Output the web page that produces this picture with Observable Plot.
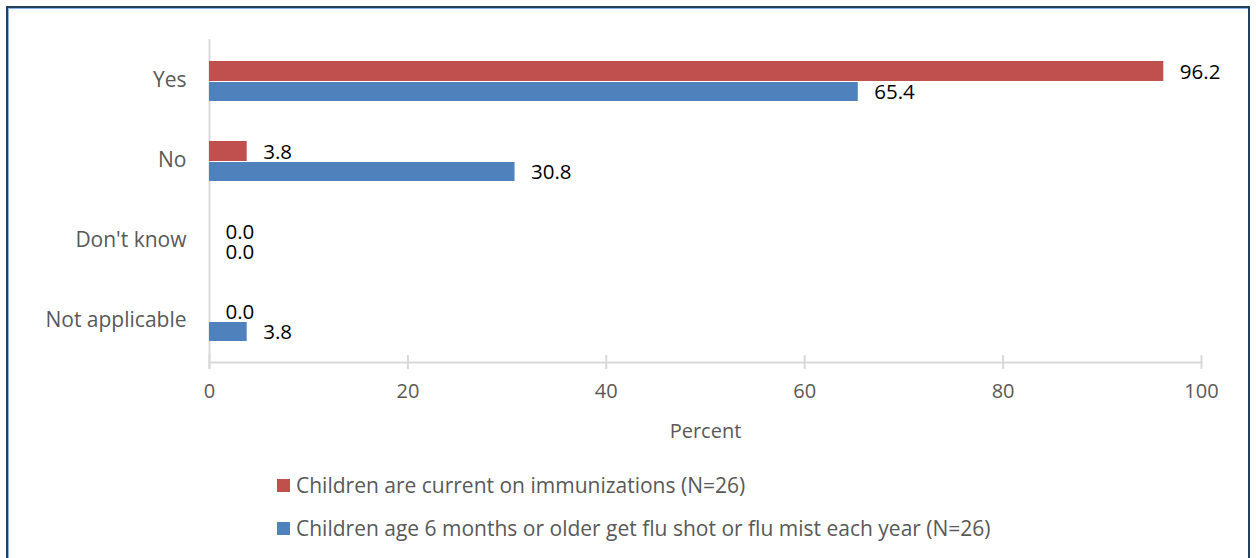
<!DOCTYPE html>
<html><head><meta charset="utf-8">
<script src="https://cdn.jsdelivr.net/npm/d3@7"></script>
<script src="https://cdn.jsdelivr.net/npm/@observablehq/plot@0.6"></script>
<style>
body{margin:0;background:#fff;font-family:"Open Sans",sans-serif;}
#wrap{position:relative;width:1256px;height:558px;overflow:hidden;background:#fff;}
#border{position:absolute;left:6px;top:6px;width:1240px;height:600px;border:2px solid #243f60;box-shadow:inset 1px 1px 0 #8eb4e3;}
#chart{position:absolute;left:0;top:0;}
.leg{position:absolute;left:277px;display:flex;align-items:center;font-size:21px;color:#595959;white-space:nowrap;}
.sw{width:13px;height:13px;margin-right:6px;flex:none;}
</style></head><body>
<div id="wrap"><div id="border"></div><div id="chart"></div><div id="legend"></div></div>
<script>
const categories = ["Yes", "No", "Don't know", "Not applicable"];
const seriesNames = [
  "Children are current on immunizations (N=26)",
  "Children age 6 months or older get flu shot or flu mist each year (N=26)"
];
const immunizations = [96.2, 3.8, 0.0, 0.0];
const fluShot = [65.4, 30.8, 0.0, 3.8];
const xTicks = [0, 20, 40, 60, 80, 100];
const colors = ["#c0504d", "#4f81bd"];

const redRows = categories.map((c, i) => ({cat: c, value: immunizations[i]}));
const blueRows = categories.map((c, i) => ({cat: c, value: fluShot[i]}));

const chart = Plot.plot({
  width: 1256,
  height: 450,
  marginLeft: 209,
  marginRight: 55,
  marginTop: 39,
  marginBottom: 88,
  x: {domain: [0, 100], ticks: xTicks},
  y: {domain: categories, padding: 0},
  style: {fontFamily: "'Open Sans', sans-serif", fontSize: "20px", color: "#595959", background: "transparent"},
  marks: [
    Plot.ruleX([0], {stroke: "#d9d9d9", strokeWidth: 2, insetBottom: -7}),
    Plot.ruleX(xTicks, {stroke: "#d9d9d9", strokeWidth: 2, insetTop: 316, insetBottom: -7}),
    Plot.frame({anchor: "bottom", stroke: "#d9d9d9", strokeWidth: 2}),
    Plot.barX(redRows, {x: "value", y: "cat", fill: colors[0], insetTop: 20, insetBottom: 40}),
    Plot.barX(blueRows, {x: "value", y: "cat", fill: colors[1], insetTop: 41, insetBottom: 20}),
    Plot.text(redRows, {x: "value", y: "cat", text: d => d.value.toFixed(1), dx: 16, dy: -9, textAnchor: "start", fill: "#000", fontSize: 20.5}),
    Plot.text(blueRows, {x: "value", y: "cat", text: d => d.value.toFixed(1), dx: 16, dy: 11, textAnchor: "start", fill: "#000", fontSize: 20.5}),
    Plot.axisY({tickSize: 0, tickPadding: 23, label: null, fontSize: 21, fill: "#595959", dy: -1}),
    Plot.axisX({ticks: xTicks, tickSize: 0, tickPadding: 21, fontSize: 20, fill: "#595959",
      label: "Percent", labelAnchor: "center", labelOffset: 75, labelArrow: "none"})
  ]
});
document.getElementById("chart").appendChild(chart);

const legend = document.getElementById("legend");
const tops = [471, 514];
seriesNames.forEach((name, i) => {
  const row = document.createElement("div");
  row.className = "leg";
  row.style.top = tops[i] + "px";
  const sw = document.createElement("div");
  sw.className = "sw";
  sw.style.background = colors[i];
  const t = document.createElement("span");
  t.textContent = name;
  row.appendChild(sw);
  row.appendChild(t);
  legend.appendChild(row);
});
</script>
</body></html>
